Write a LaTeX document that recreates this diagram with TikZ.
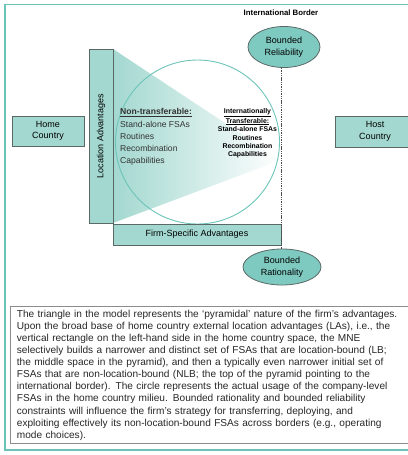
\documentclass[tikz,border=0pt]{standalone}
\usepackage{fontspec}
\setmainfont{Liberation Sans}
\usetikzlibrary{shapes.geometric, calc}
\definecolor{tealframe}{HTML}{6CC4B8}
\definecolor{tealbox}{HTML}{A3D8D0}
\definecolor{tealoval}{HTML}{7FCAC0}
\definecolor{boxline}{HTML}{5A6966}

\begin{document}
\begin{tikzpicture}[x=1pt, y=-1pt,
        box/.style={draw=boxline, fill=tealbox, rectangle, inner sep=0pt, align=center, font=\fontsize{9}{11.5}\selectfont, line width=0.8pt},
        oval/.style={draw=boxline, fill=tealoval, ellipse, inner sep=0pt, align=center, font=\fontsize{9}{11.5}\selectfont, line width=0.8pt},
        listtext/.style={align=left, inner sep=0pt, font=\fontsize{8.6}{12.2}\selectfont, text=black!80},
        smalltext/.style={align=center, inner sep=0pt, font=\bfseries\fontsize{6.9}{8.4}\selectfont},
        border/.style={draw=black!70, line width=0.7pt, dash pattern=on 1.4pt off 0.9pt}
    ]
    \useasboundingbox (0,0) rectangle (407,455);

    % Frame
    \draw[tealframe, line width=1.6pt] (5,4.5) rectangle (420,450);

    % Triangle (pyramid)
    \coordinate (apex) at (281,160);
    \shade[left color=tealbox, right color=white] (113,49) -- (apex) -- (113,223) -- cycle;

    % Circle
    \node[circle, draw=tealframe, line width=0.9pt, minimum size=164, inner sep=0pt] (usage) at (197.5,142) {};

    % Left and right countries
    \node[box, minimum width=72, minimum height=30] (home) at (48,131) {Home\\Country};
    \node[box, minimum width=80, minimum height=31] (host) at (375,131.5) {Host\\Country};

    % Advantages
    \node[box, minimum width=24, minimum height=174] (la) at (101,136) {};
    \node[rotate=90, inner sep=0pt, font=\fontsize{9}{11}\selectfont] (latext) at (la.center) {Location Advantages};
    \node[box, minimum width=168, minimum height=21] (fsa) at (197,234.5) {Firm-Specific Advantages};

    % Texts in the circle
    \node[listtext, anchor=north west] (nontr) at (120,108.5) {\underline{\textbf{Non-transferable:}}\\Stand-alone FSAs\\Routines\\Recombination\\Capabilities};
    \node[smalltext] (transf) at (247.5,133.5) {\underline{Internationally}\\\underline{Transferable:}\\Stand-alone FSAs\\Routines\\Recombination\\Capabilities};

    % International border
    \node[font=\bfseries\fontsize{7.8}{9}\selectfont, inner sep=0pt] (intl) at (281,12.5) {International Border};
    \node[oval, minimum width=72, minimum height=41] (reliab) at (284,47) {Bounded\\Reliability};
    \node[oval, minimum width=78, minimum height=36] (ration) at (282,267) {Bounded\\Rationality};
    \draw[border] (reliab.south -| fsa.east) -- (ration.north -| fsa.east);

    % Caption box
    \node[draw=black!45, line width=0.8pt, anchor=north west, minimum width=393, minimum height=137, inner xsep=6.5pt, inner ysep=3.5pt, text width=388, align=left, font=\fontsize{10.1}{12.1}\selectfont, text=black!85] (caption) at (10,306)
        {The triangle in the model represents the ‘pyramidal’ nature of the firm’s advantages.\\
        Upon the broad base of home country external location advantages (LAs), i.e., the\\
        vertical rectangle on the left-hand side in the home country space, the MNE\\
        selectively builds a narrower and distinct set of FSAs that are location-bound (LB;\\
        the middle space in the pyramid), and then a typically even narrower initial set of\\
        FSAs that are non-location-bound (NLB; the top of the pyramid pointing to the\\
        international border). The circle represents the actual usage of the company-level\\
        FSAs in the home country milieu. Bounded rationality and bounded reliability\\
        constraints will influence the firm’s strategy for transferring, deploying, and\\
        exploiting effectively its non-location-bound FSAs across borders (e.g., operating\\
        mode choices).};
\end{tikzpicture}
\end{document}
